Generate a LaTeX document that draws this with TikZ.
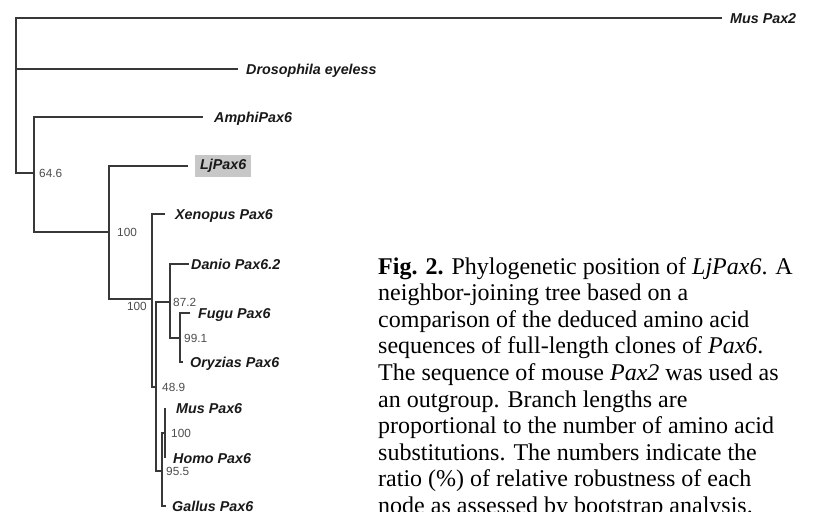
\documentclass[tikz,border=0pt]{standalone}
\usepackage{fontspec}
\setmainfont{Liberation Serif}
\setsansfont{Liberation Sans}
\usetikzlibrary{positioning}
\definecolor{treegray}{gray}{0.22}
\definecolor{bootgray}{gray}{0.30}
\definecolor{boxgray}{gray}{0.78}
\tikzset{
    branch/.style={line width=1.6pt,draw=treegray},
    taxon/.style={font=\sffamily\bfseries\itshape\fontsize{14.3}{16}\selectfont,
      inner sep=0pt,text height=10.2pt,text depth=0pt,text=black!90},
    boot/.style={font=\sffamily\fontsize{11.8}{13}\selectfont,
      inner sep=0pt,text height=8.4pt,text depth=0pt,text=bootgray},
    hilite/.style={fill=boxgray,inner xsep=5pt,inner ysep=4pt,text depth=3pt},
    caption/.style={font=\fontsize{24}{26.6}\selectfont,align=left,inner sep=0pt}
}

\begin{document}
\begin{tikzpicture}[x=1pt,y=-1pt]
  \useasboundingbox (0,0) rectangle (815,512);

  % branch points
  \coordinate (Root) at (16,95);
  \coordinate (N1) at (34,173);
  \coordinate (N2) at (109,232);
  \coordinate (N3) at (152,299);
  \coordinate (N4) at (156,387);
  \coordinate (N5) at (170,302);
  \coordinate (N6) at (180,338);
  \coordinate (N7) at (162,471);
  \coordinate (N8) at (165,433);

  % tip ends
  \coordinate (tMusPaxTwo) at (722,18);
  \coordinate (tDros) at (238,69);
  \coordinate (tAmphi) at (203,117);
  \coordinate (tLj) at (188,166);
  \coordinate (tXenopus) at (165,214);
  \coordinate (tDanio) at (189,264);
  \coordinate (tFugu) at (190,313);
  \coordinate (tOryzias) at (183,362);
  \coordinate (tMus) at (165,408);
  \coordinate (tHomo) at (165,458);
  \coordinate (tGallus) at (166,506);

  \foreach \a/\b in {Root/tMusPaxTwo,Root/tDros,Root/N1,
                     N1/tAmphi,N1/N2,N2/tLj,N2/N3,
                     N3/tXenopus,N3/N4,N4/N5,N4/N7,
                     N5/tDanio,N5/N6,N6/tFugu,N6/tOryzias,
                     N7/N8,N7/tGallus,N8/tMus,N8/tHomo}{
    \draw[branch] (\a) |- (\b);
  }

  \node[taxon,right=8pt] (musPaxTwo) at (tMusPaxTwo) {Mus Pax2};
  \node[taxon,right=8pt] (dros) at (tDros) {Drosophila eyeless};
  \node[taxon,right=11pt] (amphi) at (tAmphi) {AmphiPax6};
  \node[taxon,hilite,right=7pt] (lj) at (tLj) {LjPax6};
  \node[taxon,right=10pt] (xenopus) at (tXenopus) {Xenopus Pax6};
  \node[taxon,right=2pt] (danio) at (tDanio) {Danio Pax6.2};
  \node[taxon,right=8pt] (fugu) at (tFugu) {Fugu Pax6};
  \node[taxon,right=7pt] (oryzias) at (tOryzias) {Oryzias Pax6};
  \node[taxon,right=11pt] (mus) at (tMus) {Mus Pax6};
  \node[taxon,right=8pt] (homo) at (tHomo) {Homo Pax6};
  \node[taxon,right=6pt] (gallus) at (tGallus) {Gallus Pax6};

  \node[boot,right=5pt] (bN1) at (N1) {64.6};
  \node[boot,right=8pt] (bN2) at (N2) {100};
  \node[boot,below left={3pt and 5pt}] (bN3) at (N3) {100};
  \node[boot,right=6pt] (bN4) at (N4) {48.9};
  \node[boot,right=3pt] (bN5) at (N5) {87.2};
  \node[boot,right=4pt] (bN6) at (N6) {99.1};
  \node[boot,right=4pt] (bN7) at (N7) {95.5};
  \node[boot,right=6pt] (bN8) at (N8) {100};

  \node[caption,anchor=north west] (cap) at (378,257)
    {\textbf{Fig. 2.} Phylogenetic position of \textit{LjPax6}. A\\
     neighbor-joining tree based on a\\
     comparison of the deduced amino acid\\
     sequences of full-length clones of \textit{Pax6}.\\
     The sequence of mouse \textit{Pax2} was used as\\
     an outgroup. Branch lengths are\\
     proportional to the number of amino acid\\
     substitutions. The numbers indicate the\\
     ratio (\%) of relative robustness of each\\
     node as assessed by bootstrap analysis.};
\end{tikzpicture}
\end{document}
